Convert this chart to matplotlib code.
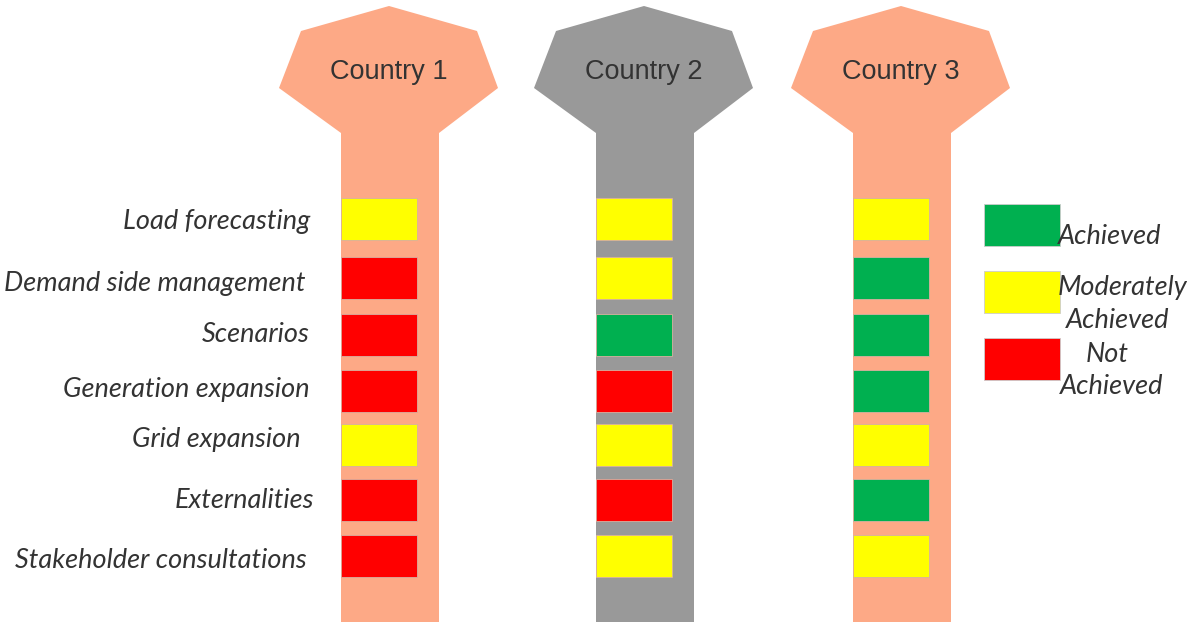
import matplotlib.pyplot as plt
from matplotlib.patches import Polygon, Rectangle

countries = ['Country 1', 'Country 2', 'Country 3']
criteria = ['Load forecasting', 'Demand side management', 'Scenarios',
            'Generation expansion', 'Grid expansion', 'Externalities',
            'Stakeholder consultations']
# G = achieved, Y = moderately achieved, R = not achieved
status = {
    'Country 1': ['Y', 'R', 'R', 'R', 'Y', 'R', 'R'],
    'Country 2': ['Y', 'Y', 'G', 'R', 'Y', 'R', 'Y'],
    'Country 3': ['Y', 'G', 'G', 'G', 'Y', 'G', 'Y'],
}
legend_labels = ['Achieved', 'Moderately', 'Achieved', 'Not', 'Achieved']

cores = {'G': '#00B050', 'Y': '#FFFF00', 'R': '#FF0000'}
fundo = ['#FDA986', '#999999', '#FDA986']

# layout (pixel units)
centros = [389, 644, 901]
linhas_y = [219, 278, 335, 391, 445, 500, 556]
rotulo_y = [221, 283, 334, 389, 440, 501, 560]
rotulo_x = [310, 306, 310, 310, 301, 314, 307]
box_w, box_h = 76, 42

fig = plt.figure(figsize=(11.87, 6.25), dpi=100)
ax = fig.add_axes([0, 0, 1, 1])
ax.set_xlim(0, 1187)
ax.set_ylim(625, 0)
ax.axis('off')

for i, (pais, cx) in enumerate(zip(countries, centros)):
    forma = [(cx, 6), (cx + 88, 31), (cx + 109, 88), (cx + 50, 133),
             (cx + 50, 622), (cx - 48, 622), (cx - 48, 133),
             (cx - 110, 88), (cx - 88, 31)]
    ax.add_patch(Polygon(forma, closed=True, facecolor=fundo[i], edgecolor='none'))
    ax.text(cx, 72, pais, ha='center', va='center', fontsize=19.5,
            family='Liberation Sans', color='#333333')
    for j, s in enumerate(status[pais]):
        ax.add_patch(Rectangle((cx - 48, linhas_y[j] - box_h / 2), box_w, box_h,
                               facecolor=cores[s], edgecolor='#d8b0a0', linewidth=0.6))

for j, nome in enumerate(criteria):
    ax.text(rotulo_x[j], rotulo_y[j], nome, ha='right', va='center', fontsize=19.5,
            family='Lato', style='italic', color='#333333')

# legenda
leg_y = [225, 292, 359]
for k, s in enumerate(['G', 'Y', 'R']):
    ax.add_patch(Rectangle((984, leg_y[k] - 21), 76, 42, facecolor=cores[s],
                           edgecolor='#cccccc', linewidth=0.6))
leg_pos = [(1058, 236, 'left'), (1058, 287, 'left'), (1118, 320, 'center'),
           (1107, 354, 'center'), (1060, 387, 'left')]
for txt, (x, y, al) in zip(legend_labels, leg_pos):
    ax.text(x, y, txt, ha=al, va='center', fontsize=19.5,
            family='Lato', style='italic', color='#333333')

plt.savefig('out.png', dpi=100)
